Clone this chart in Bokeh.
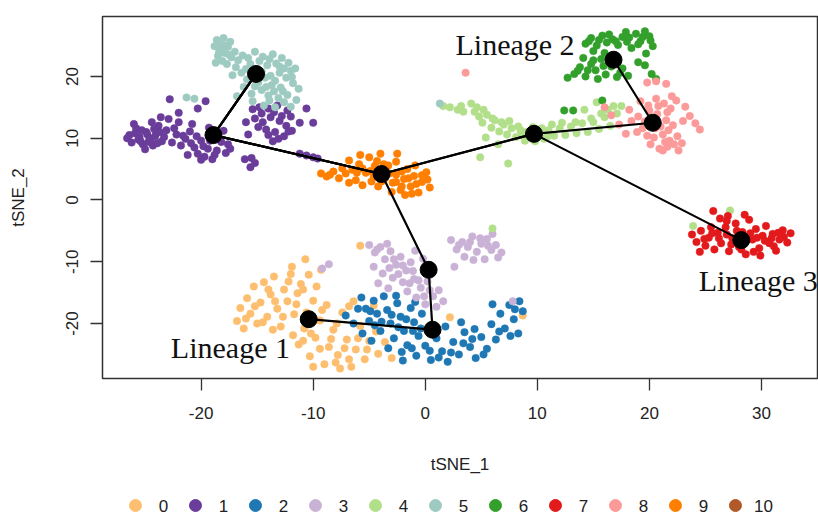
from bokeh.plotting import figure
from bokeh.layouts import column
from bokeh.models import Label, Range1d, FixedTicker
from bokeh.core.properties import value
from bokeh.embed import file_html
from bokeh.resources import INLINE

# ---------------- data ----------------
cluster_ids = ["0", "1", "2", "3", "4", "5", "6", "7", "8", "9", "10"]
cluster_colors = ["#FDBF6F", "#6A3D9A", "#1F78B4", "#CAB2D6", "#B2DF8A", "#9ECBC1",
                  "#33A02C", "#E31A1C", "#FB9A99", "#FF7F00", "#B15928"]

c0 = [(-16.8,-19.6),(-16.5,-17.5),(-16.2,-20.8),(-15.9,-15.9),(-15.6,-18.4),(-15.3,-14.0),(-15.0,-20.0),
      (-14.7,-16.6),(-14.4,-13.3),(-14.1,-18.9),(-13.8,-15.3),(-13.5,-12.4),(-13.2,-17.6),(-12.9,-20.5),
      (-12.6,-14.5),(-12.3,-16.4),(-12.0,-12.0),(-11.7,-18.5),(-11.4,-15.1),(-11.1,-13.6),(-10.7,-9.6),
      (-10.4,-12.1),(-10.0,-16.3),(-9.7,-14.0),(-9.3,-11.3),(-11.8,-21.9),(-11.3,-23.4),(-10.8,-20.8),
      (-10.3,-25.3),(-9.8,-22.3),(-9.4,-19.5),(-9.0,-26.6),(-8.6,-23.8),(-8.2,-21.0),(-7.8,-25.1),
      (-7.4,-18.2),(-7.0,-22.6),(-6.6,-27.0),(-6.2,-24.2),(-5.8,-20.4),(-5.4,-25.8),(-5.0,-22.8),
      (-4.6,-17.1),(-4.2,-24.9),(-3.6,-23.0),(-3.0,-25.6),(-8.8,-17.0),(-6.4,-16.4),(-7.6,-27.3),
      (-10.0,-27.0),(2.2,-19.0),(8.7,-18.7),(-5.8,-7.4),(-6.8,-17.2),
      (-16.0,-19.2),(-15.2,-17.2),(-14.5,-19.8),(-14.0,-14.5),(-13.4,-16.4),(-12.7,-18.9),(-12.2,-13.2),
      (-11.5,-16.9),(-10.9,-14.5),(-10.6,-18.2),(-10.9,-22.8),(-10.2,-21.6),(-9.4,-24.1),(-8.4,-22.5),
      (-7.9,-20.0),(-7.2,-24.0),(-6.8,-25.8),(-6.0,-22.4),(-5.2,-24.2),(-4.4,-21.3),(-8.0,-26.3),
      (-9.2,-17.8),(-13.6,-21.0),(-11.9,-10.8)]
c1 = [(-26.4,10.5),(-26.2,9.3),(-25.8,11.6),(-25.5,10.2),(-25.2,9.0),(-24.9,11.0),(-24.6,10.0),(-24.3,8.8),
      (-24.0,10.8),(-23.8,12.0),(-23.5,9.5),(-23.1,11.3),(-22.9,13.1),(-24.4,12.6),(-25.0,8.2),(-26.0,12.3),
      (-23.3,10.2),(-25.6,9.8),(-24.7,9.4),(-24.2,11.5),(-23.6,13.4),(-22.6,9.3),(-22.2,10.6),(-21.8,8.8),
      (-21.4,9.9),(-21.0,11.1),(-20.6,8.5),(-20.3,7.5),(-20.0,9.6),(-19.7,7.0),(-19.4,8.3),(-19.0,6.6),
      (-18.6,8.0),(-18.2,9.4),(-17.8,7.6),(-17.6,9.0),(-18.0,11.2),(-19.3,11.7),(-20.8,12.3),(-22.0,12.6),
      (-21.2,7.3),(-15.4,14.7),(-14.8,15.0),(-14.0,14.8),(-13.2,15.3),(-12.3,14.5),(-15.2,13.2),(-14.5,12.6),
      (-13.8,13.4),(-13.0,12.8),(-12.4,12.0),(-11.9,11.2),(-14.2,11.4),(-13.4,11.0),(-12.6,10.3),(-13.6,9.5),
      (-14.9,11.8),(-12.0,13.5),(-11.2,12.5),(-15.8,10.6),(-10.6,14.8),(-10.0,12.5),(-16.1,6.6),(-15.5,6.8),
      (-15.2,6.0),(-15.6,5.3),(-22.8,16.3),(-22.0,14.1),(-20.3,14.8),(-19.6,16.0),(-11.2,7.5),(-10.6,7.2),
      (-10.0,6.9),(-9.6,6.7),(-16.0,12.6),
      (-25.9,10.8),(-25.3,11.3),(-24.8,10.6),(-24.5,9.6),(-24.1,10.3),(-25.4,9.5),(-23.7,11.0),(-23.9,9.2),
      (-26.6,10.0),(-22.4,11.6),(-21.6,10.4),(-20.9,9.2),(-20.4,10.3),(-19.8,8.7),(-19.2,9.6),(-18.8,7.3),
      (-17.4,8.3),(-20.0,6.5),(-14.6,14.0),(-13.5,14.2),(-12.8,13.6),(-12.2,11.1),(-13.1,9.9),(-14.0,10.5)]
c2 = [(-7.1,-18.7),(-5.7,-15.8),(-5.3,-17.6),(-5.0,-19.6),(-4.6,-16.3),(-4.3,-18.4),(-4.0,-21.2),(-3.7,-15.6),
      (-3.4,-17.8),(-3.1,-20.0),(-2.8,-22.4),(-2.5,-16.7),(-2.2,-18.9),(-1.9,-21.2),(-1.6,-23.5),(-1.3,-17.5),
      (-1.0,-19.8),(-0.6,-22.0),(-0.3,-18.4),(-5.6,-21.6),(-4.8,-22.8),(-3.3,-24.0),(-6.4,-20.0),(-0.8,-25.2),
      (0.0,-23.6),(0.5,-25.9),(1.0,-22.4),(1.5,-24.5),(2.0,-26.2),(2.5,-23.0),(3.0,-25.0),(3.5,-21.4),
      (4.0,-23.8),(4.5,-25.6),(5.0,-22.2),(5.5,-24.1),(1.8,-20.5),(3.2,-19.8),(4.4,-20.9),(-2.0,-26.0),
      (5.9,-20.1),(6.3,-22.6),(6.7,-18.4),(7.1,-20.8),(7.5,-17.0),(7.9,-19.3),(8.3,-21.6),(8.7,-18.0),
      (6.0,-16.9),(8.4,-16.4),
      (-6.0,-17.6),(-4.9,-18.0),(-3.9,-19.7),(-3.0,-18.6),(-2.4,-20.6),(-1.7,-19.3),(-1.1,-21.2),(-0.4,-20.8),
      (-2.1,-24.6),(-1.2,-24.0),(0.4,-24.4),(1.2,-25.5),(2.3,-24.7),(3.4,-23.2),(4.2,-22.5),(5.2,-25.0),
      (6.6,-21.3),(7.6,-22.0),(8.0,-17.7),(-4.5,-20.3),(-2.6,-15.5),(-0.9,-16.5)]
c3 = [(-5.0,-7.3),(-4.5,-8.5),(-4.0,-7.6),(-3.6,-9.6),(-3.1,-8.3),(-2.6,-10.5),(-2.2,-9.2),(-1.7,-11.4),
      (-1.3,-10.1),(-4.6,-10.8),(-3.8,-11.9),(-2.9,-12.6),(-2.0,-13.3),(-1.0,-12.8),(-0.4,-14.2),(0.2,-13.2),
      (0.7,-15.6),(1.2,-14.6),(-0.8,-15.8),(0.0,-16.9),(1.0,-17.3),(-1.6,-14.8),(-3.3,-14.3),(-4.2,-13.5),
      (1.6,-16.4),(-0.2,-9.5),(-0.9,-8.2),(2.3,-6.5),(2.8,-8.0),(3.3,-6.8),(3.8,-7.6),(4.2,-5.9),(4.6,-8.4),
      (5.0,-7.1),(5.5,-6.3),(5.9,-8.1),(6.3,-7.3),(6.8,-8.5),(5.3,-9.6),(3.5,-9.2),(2.6,-10.8),(6.0,-5.5),
      (-9.2,-11.1),(-8.6,-10.4),(7.8,-16.4),
      (-4.3,-8.0),(-3.4,-7.1),(-2.8,-9.6),(-2.0,-10.6),(-1.1,-11.5),(-3.2,-11.0),(-2.4,-12.0),(-1.4,-13.5),
      (-0.6,-13.0),(0.4,-14.6),(-0.1,-15.6),(0.5,-11.8),(3.0,-7.3),(4.0,-6.8),(4.9,-6.2),(5.6,-7.4),
      (4.3,-9.7),(6.5,-9.3)]
c4 = [(1.6,15.2),(2.2,15.0),(2.9,14.6),(3.4,14.3),(4.1,15.6),(4.4,14.3),(4.8,13.5),(5.1,12.5),(5.5,13.8),
      (5.9,11.7),(6.2,12.9),(6.6,11.1),(7.0,12.2),(7.3,10.6),(7.7,11.6),(8.1,10.2),(8.5,11.3),(8.9,9.6),
      (9.3,10.4),(9.8,9.5),(10.2,10.8),(10.6,9.9),(11.0,11.3),(11.5,10.4),(12.0,11.6),(12.5,10.5),(13.0,11.9),
      (13.5,10.8),(14.0,12.4),(14.5,11.0),(15.0,12.6),(15.5,11.5),(16.0,13.4),(16.5,12.0),(17.1,14.0),
      (15.3,15.8),(16.8,15.2),(14.2,14.6),(4.9,6.9),(7.4,5.9),(6.5,9.0),(5.4,10.1),(27.2,-1.7),(23.9,-4.2),
      (6.0,-4.6),
      (3.2,15.2),(4.6,15.0),(5.2,14.6),(6.0,13.2),(6.8,12.6),(7.5,12.8),(8.3,11.9),(9.0,11.0),(9.6,11.8),
      (10.4,11.6),(11.3,12.2),(12.2,12.5),(13.4,12.6),(14.8,13.2),(15.7,14.0),(16.3,14.6),(17.5,15.2),
      (10.9,10.3),(8.6,10.5)]
c5 = [(-18.6,25.9),(-18.0,26.2),(-17.4,25.6),(-18.8,24.9),(-18.2,24.5),(-17.6,24.8),(-17.9,23.8),(-18.5,23.3),
      (-17.3,23.1),(-18.1,22.5),(-18.7,22.2),(-17.7,22.0),(-17.0,24.0),(-16.3,23.4),(-15.2,24.0),(-14.5,23.2),
      (-13.6,23.6),(-12.8,23.0),(-12.2,22.2),(-11.6,21.3),(-13.3,22.1),(-14.1,21.8),(-15.6,22.0),(-16.4,20.6),
      (-17.2,20.2),(-15.9,19.5),(-14.9,19.0),(-13.8,20.1),(-13.0,20.6),(-12.4,19.8),(-11.8,18.9),(-12.9,18.2),
      (-13.7,18.6),(-14.6,17.8),(-15.5,17.2),(-16.2,18.3),(-14.0,16.9),(-13.1,16.5),(-12.3,17.0),(-11.5,16.2),
      (-15.4,16.0),(-14.4,15.3),(-13.4,15.0),(-12.0,15.1),(-16.8,16.8),(-15.0,20.6),(-14.3,19.8),(-12.0,20.9),
      (-13.5,17.6),(-16.9,21.5),(-21.3,16.6),(-20.6,16.4),(1.3,15.6),
      (-18.3,25.2),(-17.8,25.0),(-18.4,23.9),(-17.5,23.5),(-16.7,22.6),(-15.8,23.0),(-14.8,22.5),(-13.9,22.8),
      (-13.0,21.6),(-14.6,20.8),(-13.4,19.3),(-12.6,21.3),(-11.9,19.9),(-12.7,17.6),(-14.2,18.3),(-15.2,18.4),
      (-11.3,18.0),(-13.9,16.1),(-12.6,15.8),(-16.0,21.2)]
c6 = [(14.3,25.3),(14.8,26.2),(15.3,25.0),(15.8,26.6),(16.2,25.5),(16.7,26.0),(17.2,25.1),(17.6,26.4),
      (18.0,25.6),(18.4,24.6),(18.8,26.9),(19.2,25.7),(19.6,27.3),(20.0,26.5),(20.3,24.9),(17.9,27.2),
      (15.0,24.1),(16.0,23.8),(19.7,23.7),(13.3,20.4),(13.8,21.5),(14.3,20.0),(14.8,22.0),(15.2,21.0),
      (15.7,22.8),(16.1,20.3),(16.6,21.6),(17.1,19.9),(17.6,21.3),(18.1,20.1),(14.1,23.0),(15.4,19.6),
      (19.0,22.3),(19.6,21.8),(20.2,20.4),(20.6,19.6),(12.7,19.8),(12.4,14.5),(13.2,14.5),(15.8,16.1),
      (14.6,25.7),(15.5,25.9),(16.4,26.8),(17.0,25.7),(18.2,26.3),(19.0,25.2),(19.4,26.4),(20.1,25.8),
      (14.5,21.0),(15.0,22.6),(15.9,21.7),(16.4,22.6),(17.4,20.6),(13.6,20.9)]
c7 = [(23.8,-5.6),(24.2,-6.8),(24.6,-5.0),(25.0,-7.4),(25.3,-6.1),(25.7,-1.8),(25.8,-8.0),(26.1,-5.3),
      (26.4,-7.0),(26.8,-4.4),(27.1,-8.3),(27.4,-6.2),(27.7,-3.8),(28.0,-7.6),(28.3,-5.2),(28.6,-8.8),
      (28.9,-3.2),(29.2,-6.4),(29.5,-4.7),(29.8,-7.8),(30.1,-5.8),(30.4,-4.2),(30.7,-7.0),(31.0,-5.5),
      (31.3,-8.2),(31.6,-6.4),(31.9,-4.9),(32.3,-6.9),(32.6,-5.4),(26.3,-3.0),(27.0,-2.6),(29.9,-9.0),
      (24.5,-8.4),(28.5,-2.4),
      (24.9,-6.3),(25.6,-5.4),(26.2,-6.2),(26.9,-5.6),(27.3,-7.2),(27.8,-5.0),(28.4,-6.3),(29.0,-5.4),
      (29.6,-6.1),(30.3,-6.6),(30.9,-6.2),(31.5,-5.3),(28.2,-8.0),(29.3,-8.4),(25.5,-4.4),(26.9,-3.4),
      (31.1,-7.5),(32.0,-6.0)]
c8 = [(19.8,19.0),(20.6,19.2),(21.5,18.8),(19.2,16.0),(19.9,15.3),(20.6,16.4),(21.3,15.6),(21.9,14.8),
      (22.4,16.1),(19.0,13.5),(19.6,12.7),(20.7,13.9),(21.5,12.9),(22.1,12.1),(18.9,11.0),(19.8,10.4),
      (20.5,11.6),(21.2,10.6),(21.8,9.6),(22.5,10.3),(20.1,9.0),(20.9,8.3),(21.6,8.6),(22.6,8.0),
      (23.2,15.1),(23.6,13.6),(24.1,12.4),(24.5,11.4),(16.0,15.0),(16.6,13.7),(17.3,12.2),(17.9,10.7),
      (18.4,12.8),(18.2,14.6),(3.6,20.6),
      (20.0,14.5),(20.8,15.2),(21.6,14.2),(20.2,12.3),(21.0,11.9),(21.7,11.3),(20.4,10.1),(21.4,9.4),
      (22.2,9.0),(19.4,11.6),(22.9,9.2),(21.2,8.0),(22.0,16.8),(23.0,12.8)]
c9 = [(-9.3,4.3),(-8.8,3.8),(-8.2,4.6),(-7.7,3.5),(-7.4,5.1),(-6.8,6.4),(-6.5,4.9),(-6.2,3.2),(-5.9,5.8),
      (-5.6,2.4),(-5.3,4.4),(-5.0,6.9),(-4.8,3.0),(-4.5,5.5),(-4.2,2.2),(-4.0,7.5),(-3.6,3.5),(-3.3,5.6),
      (-2.9,2.8),(-2.6,4.1),(-2.5,7.5),(-2.2,1.6),(-1.9,3.4),(-1.6,5.0),(-1.3,2.2),(-1.0,3.9),(-0.6,1.2),
      (-0.3,2.9),(0.1,4.5),(0.4,2.0),(-1.8,0.8),(-2.6,6.2),(-6.8,2.8),(-3.0,1.3),(-0.9,5.6),(-5.8,7.3),
      (-8.5,4.1),(-7.1,4.3),(-6.1,4.4),(-5.6,5.1),(-4.9,4.7),(-4.6,3.8),(-3.9,3.0),(-3.2,4.3),(-2.6,2.9),
      (-2.1,4.6),(-1.5,3.5),(-0.8,2.6),(-0.3,4.0),(-1.2,1.0),(-2.1,2.2),(0.2,3.3),(-4.3,6.3),(-3.7,5.8)]
c10 = []
cluster_points = [c0, c1, c2, c3, c4, c5, c6, c7, c8, c9, c10]

# lineage curve nodes (cluster centres), indexed by cluster id
node_x = [-10.4, -18.9, 0.65, 0.3, 9.7, -15.1, 16.8, 28.2, 20.3, -3.9]
node_y = [-19.3, 10.5, -21.0, -11.3, 10.7, 20.4, 22.7, -6.5, 12.5, 4.2]
lineages = [[5, 1, 9, 3, 2, 0], [5, 1, 9, 4, 8, 6], [5, 1, 9, 4, 7]]
lineage_names = ["Lineage 1", "Lineage 2", "Lineage 3"]

x_ticks = [-20, -10, 0, 10, 20, 30]
y_ticks = [-20, -10, 0, 10, 20]

FONT = "Liberation Sans"

# ---------------- main figure ----------------
p = figure(width=818, height=490, output_backend="svg", toolbar_location=None,
           x_range=Range1d(-28.8, 35.0), y_range=Range1d(-28.9, 29.7),
           min_border_left=102, min_border_right=1, min_border_top=16, min_border_bottom=112)
p.background_fill_color = "white"
p.border_fill_color = "white"
p.outline_line_color = "#333333"
p.outline_line_width = 1.5
p.xgrid.visible = False
p.ygrid.visible = False

for col, pts in zip(cluster_colors, cluster_points):
    if not pts:
        continue
    p.scatter(x=[a for a, b in pts], y=[b for a, b in pts], size=7.5, marker="circle",
              fill_color=col, line_color=col, line_width=0.5)

for path in lineages:
    p.line(x=[node_x[i] for i in path], y=[node_y[i] for i in path], line_color="black", line_width=2.2)
p.scatter(x=node_x, y=node_y, size=17, marker="circle", fill_color="black", line_color="black")

for ax in (p.xaxis[0], p.yaxis[0]):
    ax.axis_line_color = None
    ax.major_tick_line_color = "#333333"
    ax.major_tick_line_width = 1.3
    ax.major_tick_in = 0
    ax.major_tick_out = 12
    ax.minor_tick_line_color = None
    ax.major_label_text_font = FONT
    ax.major_label_text_font_size = "17px"
    ax.major_label_text_color = "#222222"
    ax.axis_label_text_font = FONT
    ax.axis_label_text_font_size = "17px"
    ax.axis_label_text_font_style = "normal"
    ax.axis_label_text_color = "#222222"

p.xaxis.ticker = FixedTicker(ticks=x_ticks)
p.yaxis.ticker = FixedTicker(ticks=y_ticks)
p.xaxis.major_label_overrides = {t: str(t) for t in x_ticks}
p.yaxis.major_label_overrides = {t: str(t) for t in y_ticks}
p.xaxis.axis_label = "tSNE_1"
p.yaxis.axis_label = "tSNE_2"
p.xaxis.major_label_standoff = 16
p.xaxis.axis_label_standoff = 33
p.yaxis.major_label_orientation = "vertical"
p.yaxis.major_label_standoff = 12
p.yaxis.axis_label_standoff = 36

label_pos = [(-22.7, -23.9), (2.7, 25.1), (24.4, -13.1)]
for name, (lx, ly) in zip(lineage_names, label_pos):
    p.add_layout(Label(x=lx, y=ly, text=name, text_font="Liberation Serif", text_font_size="30px",
                       text_color="#111111", text_baseline="alphabetic"))

# ---------------- legend strip (frame aligned with the main plot's frame) ----------------
leg = figure(width=818, height=26, output_backend="svg", toolbar_location=None,
             x_range=Range1d(-0.55, 11.367), y_range=Range1d(-1.0, 1.364),
             x_axis_type=None, y_axis_type=None,
             min_border_left=102, min_border_right=1, min_border_top=0, min_border_bottom=0)
leg.outline_line_color = None
leg.xgrid.visible = False
leg.ygrid.visible = False
idx = list(range(len(cluster_ids)))
leg.scatter(x=idx, y=[0] * len(idx), size=12, marker="circle", fill_color=cluster_colors,
            line_color=cluster_colors)
leg.text(x=idx, y=[0] * len(idx), text=cluster_ids, x_offset=28, text_align="center",
         text_baseline="middle", text_font=value(FONT), text_font_size="17px", text_color="#222222")

layout = column(p, leg, spacing=0)
open("out.html", "w").write(file_html(layout, INLINE))
